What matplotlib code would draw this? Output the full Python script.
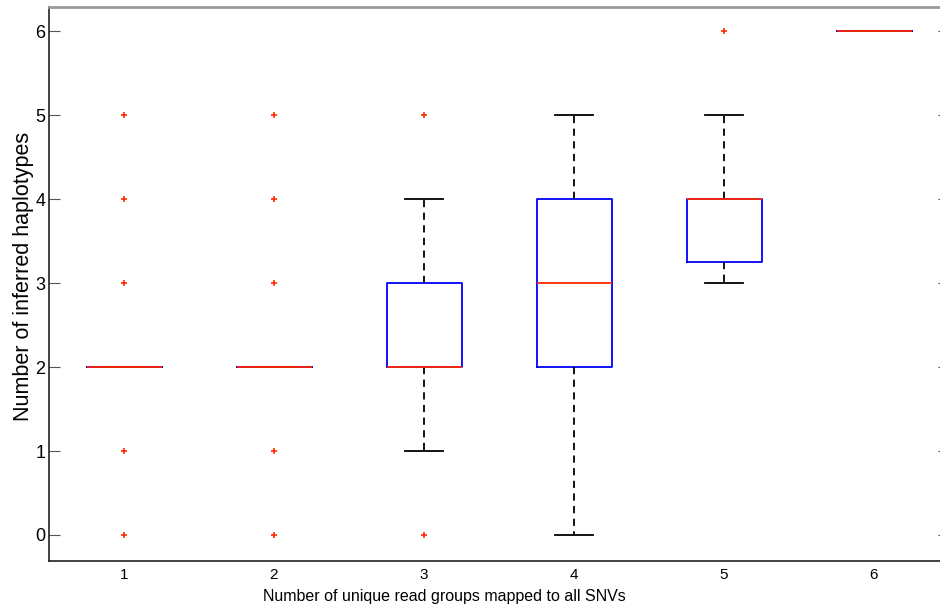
import matplotlib

matplotlib.use("Agg")
import matplotlib.pyplot as plt

# box statistics
groups = [1, 2, 3, 4, 5, 6]
q1 = [2, 2, 2, 2, 3.25, 6]
med = [2, 2, 2, 3, 4, 6]
q3 = [2, 2, 3, 4, 4, 6]
whislo = [2, 2, 1, 0, 3, 6]
whishi = [2, 2, 4, 5, 5, 6]
fliers = [[0, 1, 3, 4, 5], [0, 1, 3, 4, 5], [0, 5], [], [6], []]
y_ticks = [0, 1, 2, 3, 4, 5, 6]

plt.rcParams["font.family"] = ["Liberation Sans", "DejaVu Sans"]

fig = plt.figure(figsize=(9.4, 6.14), dpi=100)
ax = fig.add_axes([49 / 940, 53 / 614, 900 / 940, 554 / 614])

stats = []
for i in range(len(groups)):
    stats.append({
        "q1": q1[i], "med": med[i], "q3": q3[i],
        "whislo": whislo[i], "whishi": whishi[i], "fliers": fliers[i],
    })

ax.bxp(
    stats,
    positions=groups,
    widths=0.5,
    showfliers=True,
    boxprops=dict(color="#0000ff", linewidth=1.3),
    medianprops=dict(color="#ff2a00", linewidth=1.3),
    whiskerprops=dict(color="black", linewidth=1.3, linestyle=(0, (4, 3))),
    capprops=dict(color="black", linewidth=1.3),
    capwidths=0.25,
    flierprops=dict(marker="+", markeredgecolor="#ff2a00", markersize=5, markeredgewidth=1.2),
)

ax.set_xlim(0.5, 6.5)
ax.set_ylim(-0.31, 6.29)
ax.set_xticks(groups)
ax.set_xticklabels([str(g) for g in groups])
ax.set_yticks(y_ticks)

ax.tick_params(axis="x", length=0, labelsize=11, pad=5)
ax.tick_params(axis="y", direction="in", length=8, color="#555555", labelsize=13, right=True, pad=2.5)

for side in ["left", "bottom"]:
    ax.spines[side].set_color("#222222")
    ax.spines[side].set_linewidth(1.2)
for side in ["top", "right"]:
    ax.spines[side].set_color("#999999")
    ax.spines[side].set_linewidth(2)

ax.set_xlabel("Number of unique read groups mapped to all SNVs", fontsize=11.5)
ax.set_ylabel("Number of inferred haplotypes", fontsize=15.5)
ax.xaxis.set_label_coords(0.439, -0.051)
ax.yaxis.set_label_coords(-0.017, 0.514)

fig.savefig("out.png", dpi=100)
